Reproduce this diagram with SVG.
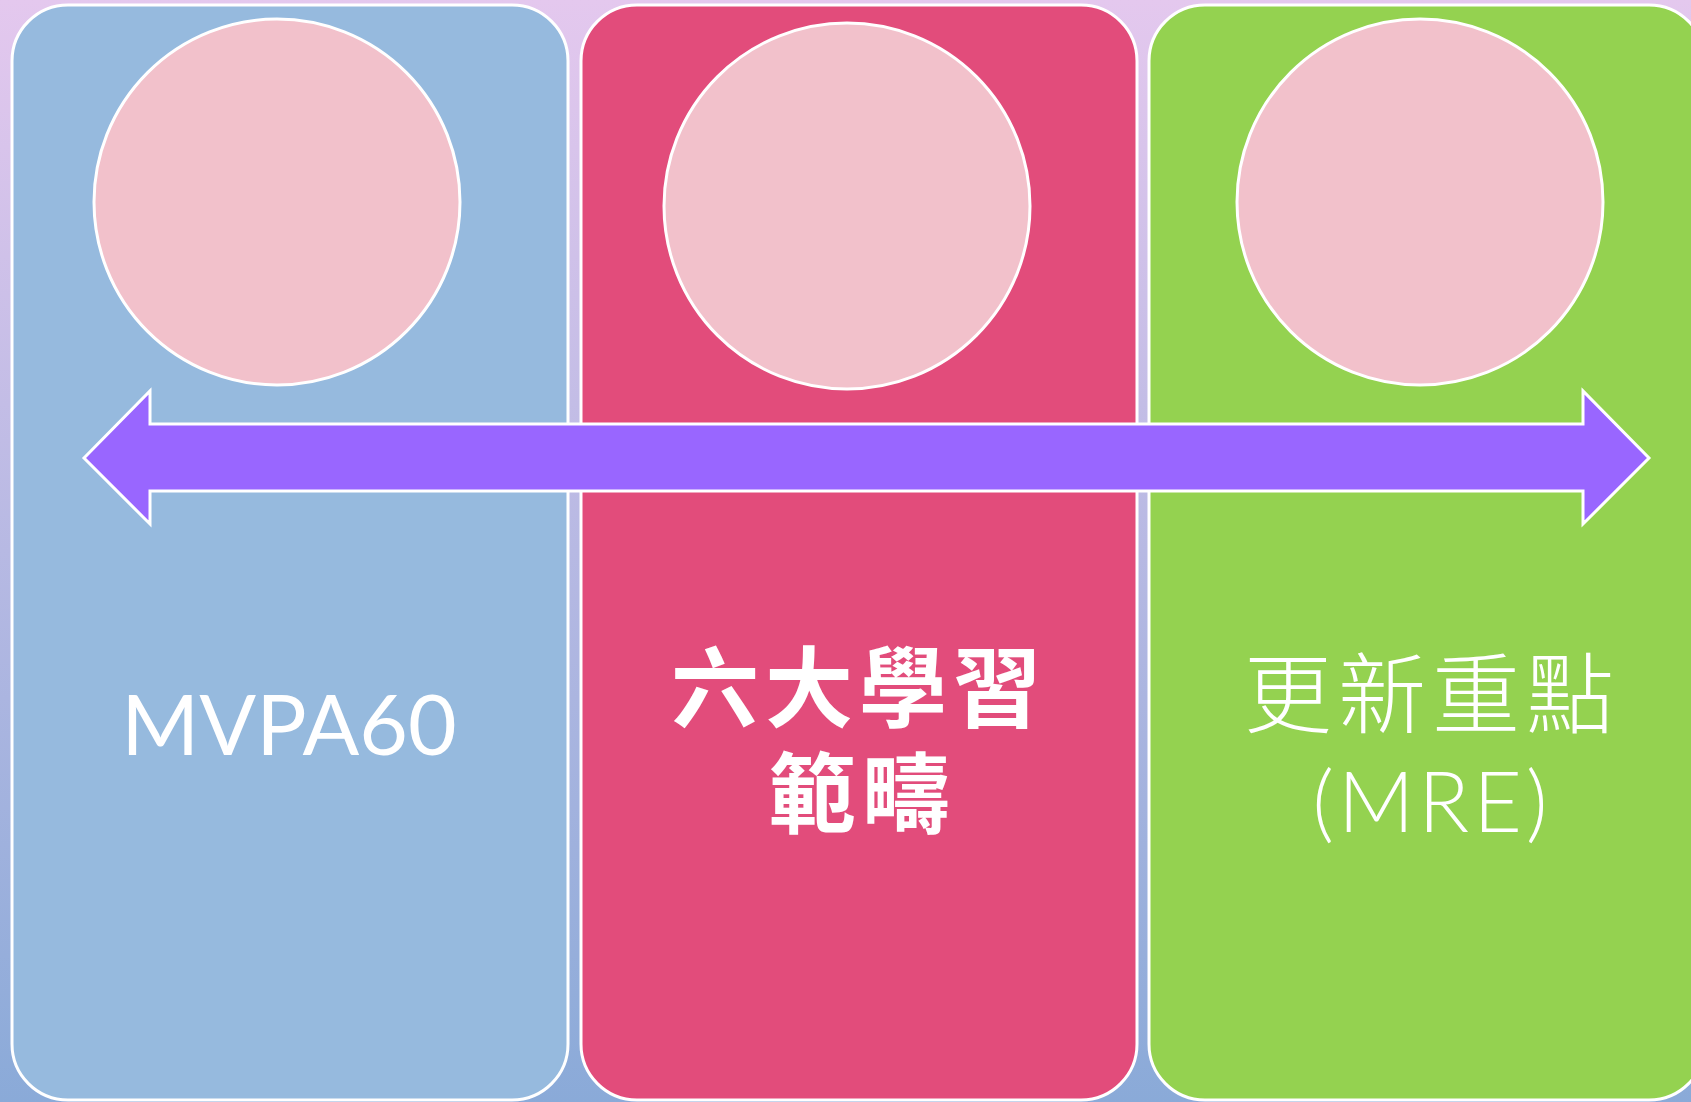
<svg xmlns="http://www.w3.org/2000/svg" width="1691" height="1102" viewBox="0 0 1691 1102">
<defs>
<linearGradient id="bg" x1="0" y1="0" x2="0" y2="1">
<stop offset="0" stop-color="#E4C8EE"/>
<stop offset="1" stop-color="#8AAAD8"/>
</linearGradient>
</defs>
<style>
.panel{stroke:#FFFFFF;stroke-width:3}
.circ{fill:#F2C1CB;stroke:#FFFFFF;stroke-width:3}
.lat{font-family:"Lato","Open Sans","DejaVu Sans",sans-serif;fill:#FFFFFF;text-anchor:middle}
.cjk{font-family:"Noto Sans CJK TC","Noto Sans CJK SC",sans-serif;fill:#FFFFFF;text-anchor:middle}
</style>
<rect x="0" y="0" width="1691" height="1102" fill="url(#bg)"/>
<g id="panel-left">
<rect class="panel" x="12" y="5" width="556" height="1095" rx="56" ry="56" fill="#96BADE"/>
<ellipse class="circ" cx="277" cy="202" rx="183" ry="183"/>
<text class="lat" x="289" y="755" font-size="84">MVPA60</text>
</g>
<g id="panel-middle">
<rect class="panel" x="581" y="5" width="556" height="1095" rx="56" ry="56" fill="#E24C7B"/>
<ellipse class="circ" cx="847" cy="206" rx="183" ry="183"/>
<text class="cjk" font-size="88" font-weight="700" letter-spacing="6"><tspan x="859" y="720">六大學習</tspan><tspan x="862" y="826">範疇</tspan></text>
</g>
<g id="panel-right">
<rect class="panel" x="1149" y="5" width="556" height="1095" rx="56" ry="56" fill="#94D250"/>
<ellipse class="circ" cx="1420" cy="202" rx="183" ry="183"/>
<text class="cjk" x="1432" y="726" font-size="88" font-weight="300" letter-spacing="6">更新重點</text>
<text class="lat" x="1432" y="832" font-size="84" font-weight="300" letter-spacing="4">(MRE)</text>
</g>
<g id="connectors">
<polygon points="84,458 150,391 150,424 1583,424 1583,391 1649,458 1583,524 1583,491 150,491 150,524" fill="#9966FF" stroke="#FFFFFF" stroke-width="3" stroke-linejoin="miter"/>
</g>
</svg>
